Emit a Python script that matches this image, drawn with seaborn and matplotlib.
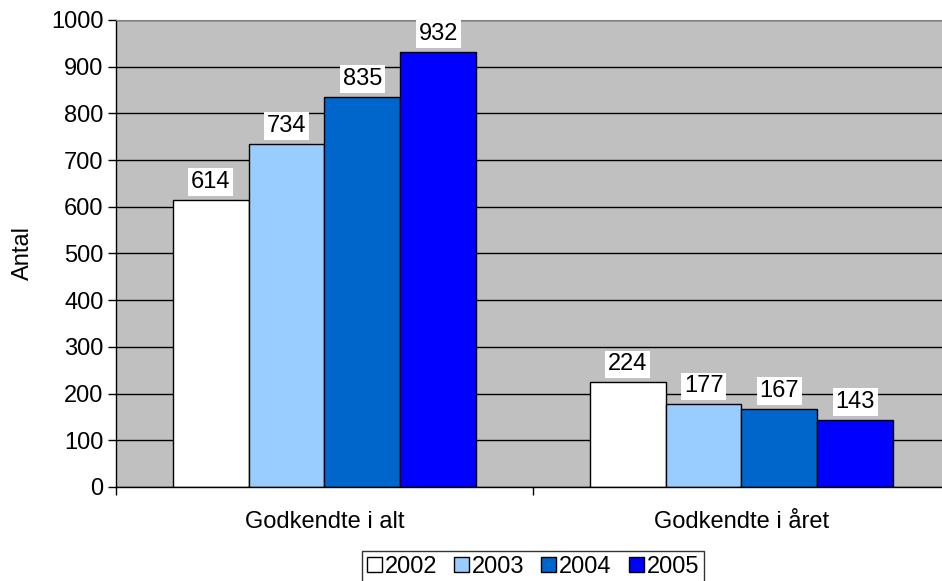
import matplotlib
matplotlib.use("Agg")
from matplotlib import pyplot as plt
import numpy as np
import pandas as pd
import seaborn as sns

# Data
categories = ['Godkendte i alt', 'Godkendte i året']
years = ['2002', '2003', '2004', '2005']
values_total = [614, 734, 835, 932]
values_year = [224, 177, 167, 143]
colors = ['#FFFFFF', '#99CCFF', '#0066CC', '#0000FF']

df = pd.DataFrame({
    'kategori': [categories[0]] * 4 + [categories[1]] * 4,
    'aar': years * 2,
    'antal': values_total + values_year,
})

sns.set_style('white')
plt.rcParams['font.family'] = ['Liberation Sans', 'DejaVu Sans']
plt.rcParams['text.color'] = 'black'
plt.rcParams['axes.labelcolor'] = 'black'
plt.rcParams['xtick.color'] = 'black'
plt.rcParams['ytick.color'] = 'black'
fs = 17

fig = plt.figure(figsize=(9.42, 5.81), dpi=100)
ax = fig.add_axes([0.1231, 0.1618, 0.8854, 0.8038])
ax.set_facecolor('#C0C0C0')

sns.barplot(data=df, x='kategori', y='antal', hue='aar', palette=colors,
            width=0.727, gap=0, edgecolor='black', linewidth=1,
            saturation=1, ax=ax, legend=True)

for cont in ax.containers:
    ax.bar_label(cont, padding=5, fontsize=fs, color='black',
                 bbox=dict(facecolor='white', edgecolor='none', pad=2))

ax.set_ylim(0, 1000)
ax.set_xlim(-0.5, 1.5)
ax.set_yticks(np.arange(0, 1001, 100))
ax.yaxis.grid(True, color='black', linewidth=1)
ax.set_axisbelow(True)

# category boundary ticks
ax.set_xticks([0, 1])
ax.set_xticklabels(categories)
ax.set_xticks([-0.5, 0.5, 1.5], minor=True)
ax.tick_params(axis='x', which='major', length=0, pad=17, labelsize=fs)
ax.tick_params(axis='x', which='minor', length=6, width=1, color='black', direction='out')
ax.tick_params(axis='y', length=6, width=1, color='black', direction='out', labelsize=fs, pad=3)
ax.tick_params(bottom=True, left=True, which='both')

for s in ['left', 'bottom']:
    ax.spines[s].set_color('black')
    ax.spines[s].set_linewidth(1)
ax.spines['top'].set_color('#808080')
ax.spines['right'].set_visible(False)

ax.set_xlabel('')
ax.set_ylabel('Antal', fontsize=fs, labelpad=12)

leg = ax.legend(loc='upper center', bbox_to_anchor=(0.5, -0.137), ncol=4,
                frameon=True, fancybox=False, edgecolor='black', fontsize=fs,
                handlelength=0.63, handleheight=0.63, handletextpad=0.12,
                columnspacing=0.72, borderpad=0.2, borderaxespad=0)
leg.get_frame().set_linewidth(1)

fig.savefig('out.png', dpi=100)
